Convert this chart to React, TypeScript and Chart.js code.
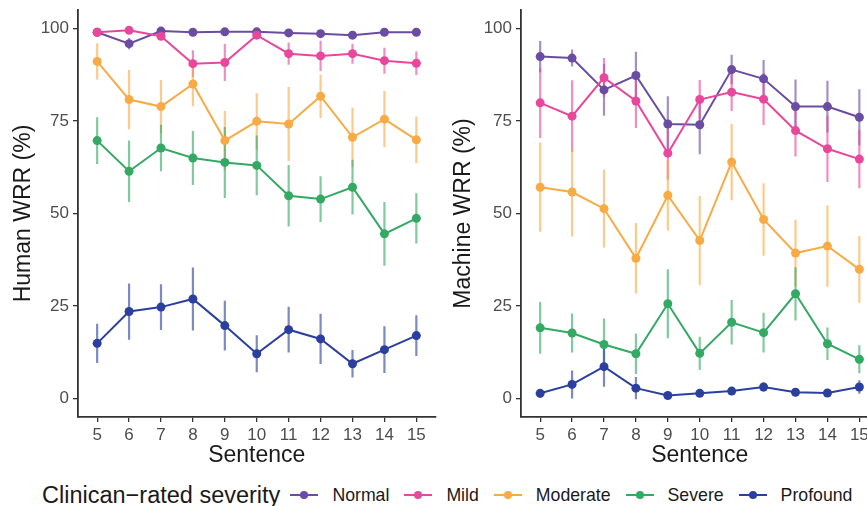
import React, { useEffect, useRef } from "react";
import { Chart, registerables } from "chart.js";

Chart.register(...registerables);

const SENTENCES = [5, 6, 7, 8, 9, 10, 11, 12, 13, 14, 15];
const SEVERITY = ["Normal", "Mild", "Moderate", "Severe", "Profound"];
const COLORS = ["#6a4ca3", "#e8489b", "#f8aa45", "#33a964", "#2b409e"];
const Y_TICKS = [0, 25, 50, 75, 100];

// Human WRR (%)
const humanNormal = [99.0, 95.9, 99.3, 99.0, 99.1, 99.1, 98.8, 98.6, 98.2, 99.0, 99.0];
const humanNormalErr = [0.4, 1.5, 0.4, 0.3, 0.3, 0.3, 0.4, 0.4, 0.5, 0.3, 0.3];
const humanMild = [99.0, 99.5, 97.9, 90.5, 90.8, 98.2, 93.2, 92.6, 93.2, 91.3, 90.6];
const humanMildErr = [0.5, 0.5, 1.0, 3.6, 5.0, 1.0, 3.0, 4.1, 2.7, 3.5, 3.2];
const humanModerate = [91.1, 80.8, 78.9, 85.0, 69.7, 74.9, 74.2, 81.7, 70.6, 75.5, 69.9];
const humanModerateErr = [4.9, 8.0, 7.2, 6.0, 8.0, 7.6, 10.0, 5.9, 8.0, 7.6, 6.3];
const humanSevere = [69.7, 61.4, 67.7, 65.0, 63.8, 63.0, 54.8, 53.9, 57.1, 44.5, 48.7];
const humanSevereErr = [6.3, 8.3, 6.3, 7.3, 9.6, 8.1, 8.3, 6.2, 7.4, 8.6, 6.8];
const humanProfound = [14.9, 23.5, 24.7, 26.9, 19.7, 12.1, 18.6, 16.1, 9.4, 13.2, 17.0];
const humanProfoundErr = [5.3, 7.6, 6.2, 8.5, 6.7, 5.0, 6.2, 6.8, 3.7, 6.3, 5.5];

// Machine WRR (%)
const machineNormal = [92.4, 92.0, 83.4, 87.3, 74.2, 74.0, 88.9, 86.4, 78.9, 78.9, 76.0];
const machineNormalErr = [4.2, 2.3, 7.0, 6.4, 7.5, 8.0, 4.0, 5.1, 7.3, 7.0, 7.6];
const machineMild = [79.9, 76.3, 86.7, 80.4, 66.3, 80.8, 82.8, 80.9, 72.4, 67.5, 64.7];
const machineMildErr = [9.5, 9.7, 5.3, 7.3, 7.2, 5.3, 5.1, 7.0, 7.0, 9.0, 7.9];
const machineModerate = [57.1, 55.8, 51.3, 37.9, 54.9, 42.7, 63.9, 48.4, 39.3, 41.2, 34.9];
const machineModerateErr = [12.0, 12.0, 10.5, 9.5, 9.5, 12.0, 10.3, 9.8, 9.0, 11.0, 9.0];
const machineSevere = [19.1, 17.7, 14.6, 12.1, 25.6, 12.2, 20.6, 17.8, 28.3, 14.8, 10.6];
const machineSevereErr = [7.0, 5.3, 7.0, 5.5, 9.3, 4.5, 6.0, 5.4, 7.2, 4.4, 3.8];
const machineProfound = [1.4, 3.8, 8.6, 2.8, 0.8, 1.4, 2.0, 3.1, 1.7, 1.5, 3.1];
const machineProfoundErr = [1.2, 3.8, 5.4, 3.0, 0.3, 0.5, 1.0, 1.2, 0.8, 0.8, 1.8];

const HUMAN_VALUES = [humanNormal, humanMild, humanModerate, humanSevere, humanProfound];
const HUMAN_ERRORS = [humanNormalErr, humanMildErr, humanModerateErr, humanSevereErr, humanProfoundErr];
const MACHINE_VALUES = [machineNormal, machineMild, machineModerate, machineSevere, machineProfound];
const MACHINE_ERRORS = [machineNormalErr, machineMildErr, machineModerateErr, machineSevereErr, machineProfoundErr];

const FONT = "'Liberation Sans', Arial, Helvetica, sans-serif";
const AXIS_COLOR = "#333333";
const TICK_COLOR = "#4d4d4d";

function hexA(hex: string, a: number) {
  const n = parseInt(hex.slice(1), 16);
  return `rgba(${(n >> 16) & 255},${(n >> 8) & 255},${n & 255},${a})`;
}

const errorBarPlugin = {
  id: "errorBars",
  beforeDatasetsDraw(chart: any) {
    const { ctx, chartArea } = chart;
    const xs = chart.scales.x;
    const ys = chart.scales.y;
    ctx.save();
    ctx.beginPath();
    ctx.rect(chartArea.left, chartArea.top, chartArea.right - chartArea.left, chartArea.bottom - chartArea.top);
    ctx.clip();
    const n = chart.data.datasets.length;
    for (let d = 0; d < n; d++) {
      const ds: any = chart.data.datasets[d];
      ctx.strokeStyle = hexA(ds.baseColor, 0.62);
      ctx.lineWidth = 2.2;
      ds.data.forEach((p: any, i: number) => {
        const e = ds.errors[i];
        const px = xs.getPixelForValue(p.x);
        ctx.beginPath();
        ctx.moveTo(px, ys.getPixelForValue(p.y - e));
        ctx.lineTo(px, ys.getPixelForValue(p.y + e));
        ctx.stroke();
      });
    }
    ctx.restore();
  },
};

function makeConfig(values: number[][], errors: number[][], yTitle: string, yWidth: number) {
  return {
    type: "line" as const,
    data: {
      datasets: SEVERITY.map((name, k) => ({
        label: name,
        baseColor: COLORS[k],
        errors: errors[k],
        data: SENTENCES.map((s, i) => ({ x: s, y: values[k][i] })),
        borderColor: COLORS[k],
        backgroundColor: COLORS[k],
        borderWidth: 2,
        pointRadius: 4.5,
        pointBorderWidth: 0,
        pointBackgroundColor: COLORS[k],
        tension: 0,
        order: SEVERITY.length - k,
      })),
    },
    options: {
      animation: false,
      responsive: false,
      maintainAspectRatio: false,
      layout: { padding: { top: 10, right: 4, bottom: 0, left: 0 } },
      plugins: { legend: { display: false }, tooltip: { enabled: false } },
      scales: {
        x: {
          type: "linear",
          min: 4.4,
          max: 15.6,
          afterBuildTicks: (s: any) => {
            s.ticks = SENTENCES.map((v) => ({ value: v }));
          },
          afterFit: (s: any) => {
            s.height = 53;
            s.paddingLeft = 0;
            s.paddingRight = 0;
          },
          ticks: {
            autoSkip: false,
            maxRotation: 0,
            color: TICK_COLOR,
            padding: 3,
            font: { family: FONT, size: 17 },
            callback: (v: any) => String(v),
          },
          grid: { drawOnChartArea: false, drawTicks: true, tickLength: 5, color: AXIS_COLOR, lineWidth: 1.3 },
          border: { display: true, color: AXIS_COLOR, width: 1.8 },
          title: {
            display: true,
            text: "Sentence",
            color: "#1a1a1a",
            font: { family: FONT, size: 23 },
            padding: { top: 0, bottom: 1 },
          },
        },
        y: {
          type: "linear",
          min: -5,
          max: 105,
          afterBuildTicks: (s: any) => {
            s.ticks = Y_TICKS.map((v) => ({ value: v }));
          },
          afterFit: (s: any) => {
            s.width = yWidth;
            s.paddingTop = 0;
            s.paddingBottom = 0;
          },
          ticks: {
            color: TICK_COLOR,
            padding: 4,
            font: { family: FONT, size: 17 },
            callback: (v: any) => String(v),
          },
          grid: { drawOnChartArea: false, drawTicks: true, tickLength: 5, color: AXIS_COLOR, lineWidth: 1.3 },
          border: { display: true, color: AXIS_COLOR, width: 1.8 },
          title: {
            display: true,
            text: yTitle,
            color: "#1a1a1a",
            font: { family: FONT, size: 23 },
            padding: { top: 10, bottom: 0 },
          },
        },
      },
    },
    plugins: [errorBarPlugin],
  };
}

function Panel(props: { values: number[][]; errors: number[][]; title: string; yWidth: number; left: number; width: number }) {
  const ref = useRef<HTMLCanvasElement | null>(null);
  useEffect(() => {
    if (!ref.current) return;
    const chart = new Chart(ref.current, makeConfig(props.values, props.errors, props.title, props.yWidth) as any);
    return () => chart.destroy();
  }, []);
  return (
    <canvas
      ref={ref}
      width={props.width}
      height={470}
      style={{ position: "absolute", left: props.left, top: 0, width: props.width, height: 470 }}
    />
  );
}

function LegendKey(props: { color: string }) {
  return (
    <span style={{ position: "relative", display: "inline-block", width: 28, height: 12, marginRight: 14 }}>
      <span style={{ position: "absolute", left: 0, right: 0, top: 5, height: 2, background: props.color }} />
      <span
        style={{
          position: "absolute",
          left: 10,
          top: 2,
          width: 8,
          height: 8,
          borderRadius: "50%",
          background: props.color,
        }}
      />
    </span>
  );
}

export default function App() {
  return (
    <div style={{ position: "fixed", left: 0, top: 0, width: 867, height: 506, overflow: "hidden", background: "#fff" }}>
      <Panel values={HUMAN_VALUES} errors={HUMAN_ERRORS} title="Human WRR (%)" yWidth={78} left={0} width={440} />
      <Panel values={MACHINE_VALUES} errors={MACHINE_ERRORS} title="Machine WRR (%)" yWidth={81} left={440} width={443} />
      <div
        style={{
          position: "absolute",
          left: 42,
          top: 481,
          height: 28,
          display: "flex",
          alignItems: "center",
          fontFamily: FONT,
          color: "#1a1a1a",
          whiteSpace: "nowrap",
        }}
      >
        <span style={{ fontSize: 23.5, marginRight: 10 }}>Clinican−rated severity</span>
        {SEVERITY.map((name, k) => (
          <span key={name} style={{ display: "inline-flex", alignItems: "center", marginRight: 15 }}>
            <LegendKey color={COLORS[k]} />
            <span style={{ fontSize: 17.7 }}>{name}</span>
          </span>
        ))}
      </div>
    </div>
  );
}
